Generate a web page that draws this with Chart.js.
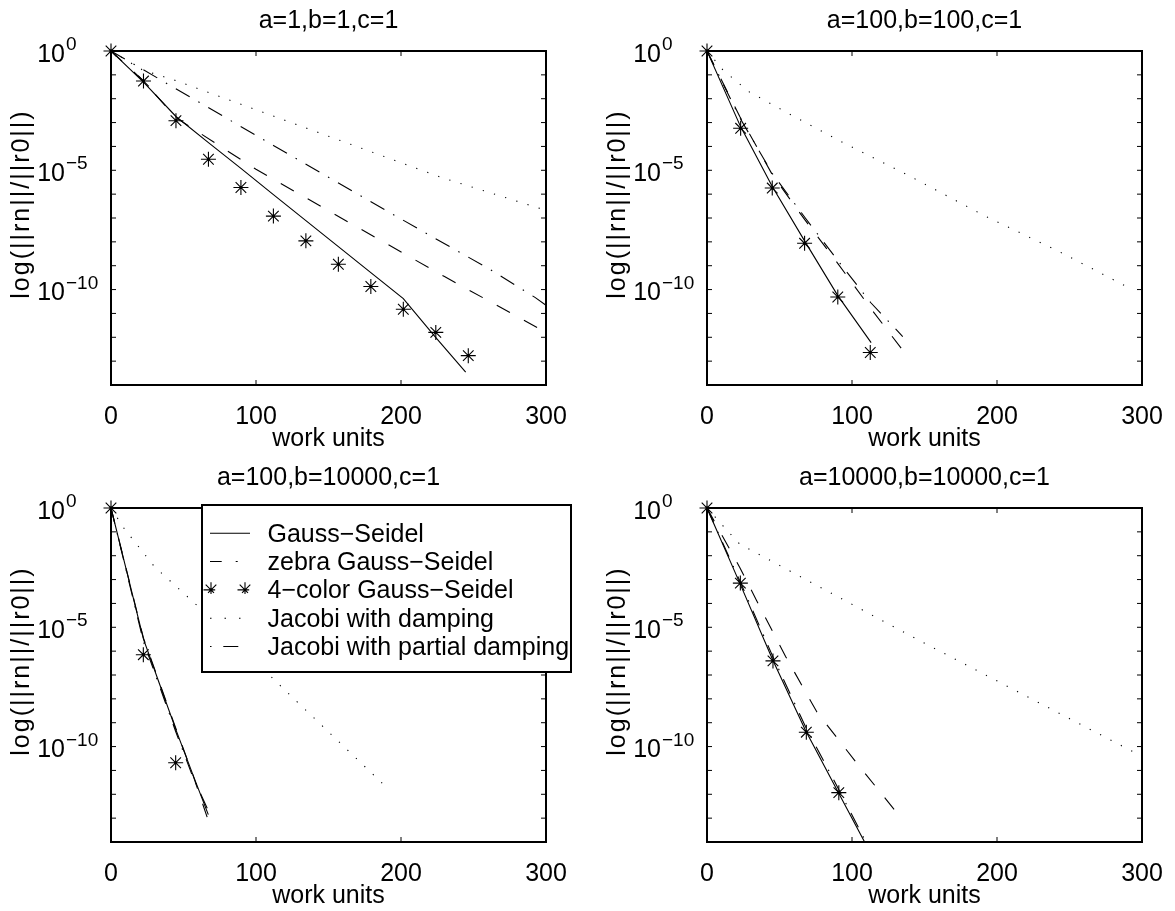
<!DOCTYPE html>
<html lang="en">
<head>
<meta charset="UTF-8">
<title>Relaxation schemes: residual vs work units</title>
<script src="https://cdn.jsdelivr.net/npm/chart.js@4.4.1/dist/chart.umd.min.js"></script>
<style>
  body { margin: 0; background: #fff; }
  canvas { position: absolute; }
</style>
</head>
<body>

<canvas id="c1" width="590" height="455" style="left:0;top:0"></canvas>
<canvas id="c2" width="579" height="455" style="left:596px;top:0"></canvas>
<canvas id="c3" width="590" height="454" style="left:0;top:457px"></canvas>
<canvas id="c4" width="579" height="454" style="left:596px;top:457px"></canvas>

<script>
// axis ticks
var X_TICKS = [0, 100, 200, 300];
var Y_LABEL_DECADES = [0, -5, -10];
var Y_MINOR_DECADES = [0, -1, -2, -3, -4, -5, -6, -7, -8, -9, -10, -11, -12, -13, -14];
var Y_MIN = 1e-14, Y_MAX = 1;

var LABELS = ['Gauss\u2212Seidel', 'zebra Gauss\u2212Seidel', '4\u2212color Gauss\u2212Seidel',
              'Jacobi with damping', 'Jacobi with partial damping'];
var TITLES = ['a=1,b=1,c=1', 'a=100,b=100,c=1', 'a=100,b=10000,c=1', 'a=10000,b=10000,c=1'];

// panel 1: a=1, b=1
var p1GsX    = [0, 22.4, 44.8, 67.2, 89.6, 112, 134.4, 156.8, 179.2, 201.6, 223.9, 244.6];
var p1GsY    = [1, 5.0e-2, 1.8e-3, 1.45e-4, 1.2e-5, 9.5e-7, 7.8e-8, 6.3e-9, 5.1e-10, 4.2e-11, 1.0e-12, 3.5e-14];
var p1ZebraX = [0, 22.4, 44.8, 100, 160.2, 230, 300];
var p1ZebraY = [1, 5.6e-2, 1.6e-3, 1.1e-5, 8.9e-8, 3.5e-10, 1.6e-12];
var p1StarX  = [0, 22.4, 44.8, 67.2, 89.6, 112, 134.4, 156.8, 179.2, 201.6, 224, 246.4];
var p1StarY  = [1, 5.5e-2, 1.2e-3, 2.9e-5, 1.9e-6, 1.2e-7, 1.1e-8, 1.15e-9, 1.35e-10, 1.5e-11, 1.6e-12, 1.7e-13];
var p1JacX   = [0, 21.8, 45.3, 229.2, 296];
var p1JacY   = [1, 1.6e-1, 5.6e-2, 4.7e-6, 2.5e-7];
var p1PartX  = [0, 56, 112, 168.3, 214.3, 260.7, 292.4, 300];
var p1PartY  = [1, 1.05e-2, 1.1e-4, 1.15e-6, 2.9e-8, 7.4e-10, 4.7e-11, 2.2e-11];

// panel 2: a=100, b=100
var p2GsX    = [0, 23, 45.2, 67.5, 90.2, 113.2];
var p2GsY    = [1, 7.1e-4, 2.0e-6, 1.05e-8, 5.6e-11, 6.0e-13];
var p2ZebraX = [0, 22.6, 45.2, 67.8, 90.4, 113, 138.5];
var p2ZebraY = [1, 1.8e-3, 6.3e-6, 7.9e-8, 1.2e-9, 1.6e-11, 1.5e-13];
var p2StarX  = [0, 23.2, 45, 67.3, 90.2, 112.6];
var p2StarY  = [1, 5.75e-4, 1.8e-6, 8.7e-9, 4.9e-11, 2.3e-13];
var p2JacX   = [0, 11, 28.7, 57.4, 94.2, 138.5, 190.2, 242.6, 293.6];
var p2JacY   = [1, 1.6e-1, 2.0e-2, 2.2e-3, 1.4e-4, 6.3e-6, 1.35e-7, 4.0e-9, 9.8e-11];
var p2PartX  = [0, 22.6, 45.2, 67.8, 90.4, 113, 135];
var p2PartY  = [1, 1.6e-3, 7.1e-6, 1.0e-7, 1.6e-9, 2.8e-11, 1.07e-12];

// panel 3: a=100, b=10000
var p3GsX    = [0, 22.4, 33.6, 44.8, 56, 67.1];
var p3GsY    = [1, 3.2e-6, 4.0e-8, 5.0e-10, 7.9e-12, 1.4e-13];
var p3ZebraX = [0, 22.4, 33.6, 44.8, 56, 66.3];
var p3ZebraY = [1, 3.5e-6, 4.5e-8, 5.6e-10, 7.9e-12, 1.1e-13];
var p3StarX  = [0, 22.3, 44.6];
var p3StarY  = [1, 7.1e-7, 2.1e-11];
var p3JacX   = [0, 9.2, 29.9, 60.2, 125.7, 192];
var p3JacY   = [1, 1.35e-1, 3.5e-3, 7.4e-5, 1.07e-8, 1.5e-12];
var p3PartX  = [0, 22.4, 33.6, 44.8, 56, 67.8];
var p3PartY  = [1, 2.5e-6, 3.2e-8, 4.0e-10, 6.3e-12, 1.66e-13];

// panel 4: a=10000, b=10000
var p4GsX    = [0, 22.6, 45.2, 67.8, 90.4, 113];
var p4GsY    = [1, 7.1e-4, 4.5e-7, 5.0e-10, 1.26e-12, 3.2e-15];
var p4ZebraX = [0, 22.6, 34, 54.2, 75.8, 103.1, 133.9];
var p4ZebraY = [1, 3.2e-3, 1.4e-4, 6.0e-7, 2.8e-9, 2.1e-11, 1.0e-13];
var p4StarX  = [0, 23, 45.5, 68.5, 90.9];
var p4StarY  = [1, 7.1e-4, 3.9e-7, 4.0e-10, 1.17e-12];
var p4JacX   = [0, 11, 22.5, 146.4, 293.6];
var p4JacY   = [1, 1.8e-1, 3.1e-2, 2.8e-6, 6.2e-11];
var p4PartX  = [0, 22.6, 45.2, 67.8, 90.4, 113];
var p4PartY  = [1, 8.9e-4, 6.3e-7, 7.1e-10, 1.8e-12, 4.0e-15];

var FONT = '"Liberation Sans", Arial, Helvetica, sans-serif';
Chart.defaults.font.family = FONT;
Chart.defaults.font.size = 25;
Chart.defaults.color = '#000';

var DASHED = [15, 16];
var DOTTED = [1.2, 10.5];
var DASHDOT = [16, 10, 1.5, 10];
var TICK_LEN = 5;

function pts(xs, ys) {
	return xs.map(function (x, i) { return { x: x, y: ys[i] }; });
}

function lineSet(label, xs, ys, dash) {
	return {
		label: label, data: pts(xs, ys), showLine: true,
		borderColor: '#000', borderWidth: 1.1, borderDash: dash,
		pointRadius: 0, fill: false, tension: 0
	};
}

function starSets(label, xs, ys) {
	return [{
		label: label, data: pts(xs, ys), showLine: false, clip: false,
		pointStyle: 'star', pointRadius: 7.5, pointBorderColor: '#000', pointBorderWidth: 1.1
	}, {
		label: label, data: pts(xs, ys), showLine: false, clip: false,
		pointStyle: 'circle', pointRadius: 1.4, pointBackgroundColor: '#000', pointBorderWidth: 0
	}];
}

function panel(gsX, gsY, zX, zY, sX, sY, jX, jY, pX, pY) {
	return [
		lineSet(LABELS[0], gsX, gsY, []),
		lineSet(LABELS[1], zX, zY, DASHED),
		lineSet(LABELS[3], jX, jY, DOTTED),
		lineSet(LABELS[4], pX, pY, DASHDOT)
	].concat(starSets(LABELS[2], sX, sY));
}

function drawStar(ctx, x, y, r) {
	ctx.beginPath();
	for (var k = 0; k < 4; k++) {
		var ang = k * Math.PI / 4;
		ctx.moveTo(x - Math.cos(ang) * r, y - Math.sin(ang) * r);
		ctx.lineTo(x + Math.cos(ang) * r, y + Math.sin(ang) * r);
	}
	ctx.stroke();
}

function drawLegend(ctx, a) {
	var left = a.left + 91, top = a.top - 3, w = 369, h = 167;
	ctx.setLineDash([]);
	ctx.fillStyle = '#fff';
	ctx.fillRect(left, top, w, h);
	ctx.lineWidth = 2;
	ctx.strokeStyle = '#000';
	ctx.strokeRect(left, top, w, h);

	ctx.font = '25px ' + FONT;
	ctx.textAlign = 'left';
	ctx.textBaseline = 'alphabetic';
	ctx.fillStyle = '#000';
	ctx.lineWidth = 1.1;
	var x0 = left + 8, x1 = left + 48;
	// sample patterns as MATLAB shows them in the legend
	var samples = [[], [11.7, 14, 2, 40], null, [1.5, 13], [1.5, 11.8, 15, 40]];
	LABELS.forEach(function (label, i) {
		var base = top + 36.7 + i * 28.33;
		var y = base - 8.5;
		ctx.fillText(label, left + 65.5, base);
		if (samples[i] === null) {
			drawStar(ctx, x0 + 1, y, 7.5);
			drawStar(ctx, x0 + 35, y, 7.5);
			ctx.beginPath(); ctx.arc(x0 + 1, y, 1.4, 0, 2 * Math.PI); ctx.fill();
			return;
		}
		ctx.setLineDash(samples[i]);
		ctx.beginPath();
		ctx.moveTo(x0, y);
		ctx.lineTo(x1, y);
		ctx.stroke();
	});
	ctx.setLineDash([]);
}

// MATLAB-like box, inward ticks, 10^n labels, rotated y label
var matlabAxes = {
	id: 'matlabAxes',
	afterDraw: function (chart, args, opts) {
		var ctx = chart.ctx, a = chart.chartArea;
		var xs = chart.scales.x, ys = chart.scales.y;
		ctx.save();
		ctx.strokeStyle = '#000';
		ctx.fillStyle = '#000';
		ctx.lineWidth = 1;
		ctx.beginPath();
		X_TICKS.forEach(function (v) {
			var px = xs.getPixelForValue(v);
			ctx.moveTo(px, a.bottom); ctx.lineTo(px, a.bottom - TICK_LEN);
			ctx.moveTo(px, a.top); ctx.lineTo(px, a.top + TICK_LEN);
		});
		Y_MINOR_DECADES.forEach(function (e) {
			var py = ys.getPixelForValue(Math.pow(10, e));
			ctx.moveTo(a.left, py); ctx.lineTo(a.left + TICK_LEN, py);
			ctx.moveTo(a.right, py); ctx.lineTo(a.right - TICK_LEN, py);
		});
		ctx.stroke();
		ctx.lineWidth = 2;
		ctx.strokeRect(a.left, a.top, a.right - a.left, a.bottom - a.top);

		Y_LABEL_DECADES.forEach(function (e) {
			var py = ys.getPixelForValue(Math.pow(10, e));
			ctx.font = '25px ' + FONT;
			ctx.textAlign = 'right';
			ctx.textBaseline = 'alphabetic';
			ctx.fillText('10', a.left - 46, py + 10.5);
			ctx.font = '19px ' + FONT;
			ctx.textAlign = 'left';
			ctx.fillText(e === 0 ? '0' : '\u2212' + (-e), a.left - 45, py - 1);
		});

		ctx.save();
		ctx.translate(a.left - 88.7, (a.top + a.bottom) / 2 - 14);
		ctx.rotate(-Math.PI / 2);
		ctx.font = '25px ' + FONT;
		ctx.letterSpacing = '2px';
		ctx.textAlign = 'center';
		ctx.textBaseline = 'middle';
		ctx.fillText('log(||rn||/||r0||)', 0, 0);
		ctx.restore();

		if (opts.legend) drawLegend(ctx, a);
		ctx.restore();
	}
};

function makeChart(id, title, datasets, withLegend, rightPad, axisH) {
	return new Chart(document.getElementById(id), {
		type: 'scatter',
		data: { datasets: datasets },
		options: {
			responsive: false,
			animation: false,
			events: [],
			layout: { padding: { left: 0, right: rightPad, top: 0, bottom: 0 } },
			plugins: {
				legend: { display: false },
				tooltip: { enabled: false },
				title: {
					display: true, text: title, fullSize: false, color: '#000',
					font: { size: 25, weight: 'normal' }, padding: { top: 6, bottom: 15 }
				},
				matlabAxes: { legend: withLegend }
			},
			scales: {
				x: {
					type: 'linear', min: 0, max: 300,
					afterBuildTicks: function (s) { s.ticks = X_TICKS.map(function (v) { return { value: v }; }); },
					ticks: { padding: 9, color: '#000', font: { size: 25 } },
					grid: { display: false },
					border: { display: false },
					title: {
						display: true, text: 'work units', color: '#000', font: { size: 25 },
						padding: { top: 0, bottom: Math.max(0, axisH - 69.3) }
					},
					afterFit: function (s) { s.height = axisH; }
				},
				y: {
					type: 'logarithmic', min: Y_MIN, max: Y_MAX,
					ticks: { display: false },
					grid: { display: false },
					border: { display: false },
					afterFit: function (s) { s.width = 111; }
				}
			}
		},
		plugins: [matlabAxes]
	});
}

makeChart('c1', TITLES[0], panel(p1GsX, p1GsY, p1ZebraX, p1ZebraY, p1StarX, p1StarY, p1JacX, p1JacY, p1PartX, p1PartY), false, 44, 70);
makeChart('c2', TITLES[1], panel(p2GsX, p2GsY, p2ZebraX, p2ZebraY, p2StarX, p2StarY, p2JacX, p2JacY, p2PartX, p2PartY), false, 33, 70);
makeChart('c3', TITLES[2], panel(p3GsX, p3GsY, p3ZebraX, p3ZebraY, p3StarX, p3StarY, p3JacX, p3JacY, p3PartX, p3PartY), true, 44, 69);
makeChart('c4', TITLES[3], panel(p4GsX, p4GsY, p4ZebraX, p4ZebraY, p4StarX, p4StarY, p4JacX, p4JacY, p4PartX, p4PartY), false, 33, 69);
</script>

</body>
</html>
